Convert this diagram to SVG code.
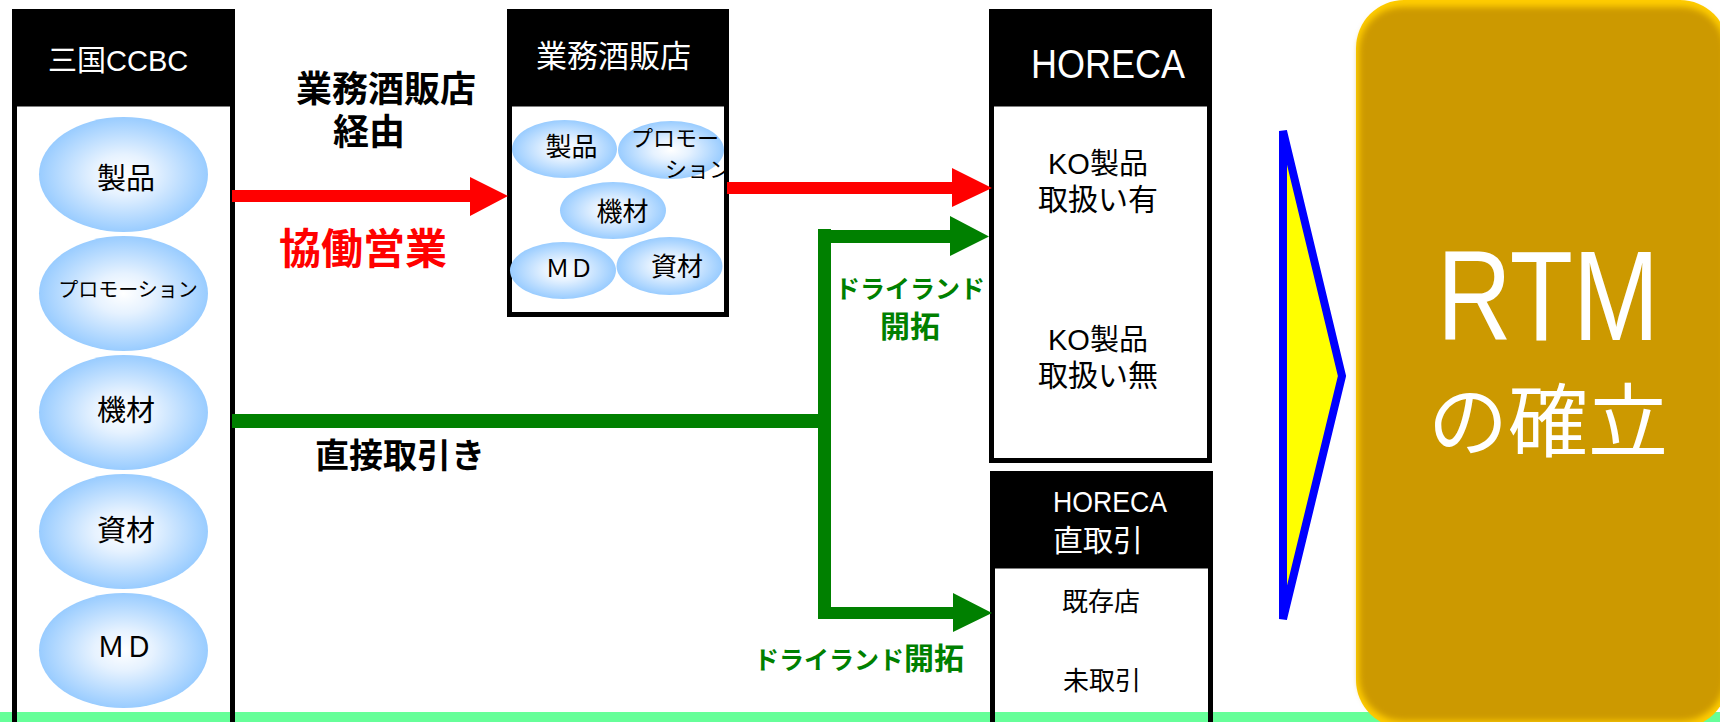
<svg xmlns="http://www.w3.org/2000/svg" width="1720" height="722" viewBox="0 0 1720 722">
<defs>
<style>
text{font-family:"Liberation Sans","Noto Sans CJK JP",sans-serif;}
.hdr{fill:#000;}
.body{fill:none;stroke:#000;stroke-width:5;}
.wt{fill:#fff;}
.bk{fill:#000;}
.bold{font-weight:bold;}
.ell{fill:url(#blueGrad);}
.red{fill:#FF0000;}
.grn{fill:#008000;}
.mid{text-anchor:middle;}
</style>
<radialGradient id="blueGrad" cx="50%" cy="50%" r="50%">
<stop offset="0" stop-color="#FFFFFF"/>
<stop offset="0.35" stop-color="#E6F2FF"/>
<stop offset="1" stop-color="#99CCFF"/>
</radialGradient>
<filter id="soft" x="-10%" y="-10%" width="120%" height="120%">
<feGaussianBlur stdDeviation="3"/>
</filter>
<clipPath id="midClip"><rect x="512" y="106" width="212" height="206"/></clipPath>
</defs>
<rect x="0" y="0" width="1720" height="722" fill="#fff"/>
<rect x="0" y="712" width="1720" height="10" fill="#66FF99"/>

<g id="node-mikuni">
<rect class="hdr" x="12" y="9" width="223" height="97"/>
<rect class="body" x="14.5" y="104" width="218" height="640"/>
<text class="wt" x="48" y="71" font-size="29">三国CCBC</text>
<ellipse class="ell" cx="123.5" cy="174.5" rx="84.5" ry="57.5"/>
<ellipse class="ell" cx="123.5" cy="293.5" rx="84.5" ry="57.5"/>
<ellipse class="ell" cx="123.5" cy="412.5" rx="84.5" ry="57.5"/>
<ellipse class="ell" cx="123.5" cy="531.5" rx="84.5" ry="57.5"/>
<ellipse class="ell" cx="123.5" cy="650.5" rx="84.5" ry="57.5"/>
<text class="bk mid" x="126" y="189" font-size="29">製品</text>
<text class="bk mid" x="128" y="297" font-size="20">プロモーション</text>
<text class="bk mid" x="126" y="421" font-size="29">機材</text>
<text class="bk mid" x="126" y="541" font-size="29">資材</text>
<text class="bk mid" x="125" y="657" font-size="28">ＭＤ</text>
</g>

<g id="node-gyomu">
<rect class="hdr" x="507" y="9" width="222" height="97"/>
<rect class="body" x="509.5" y="104" width="217" height="210.5"/>
<text class="wt" x="536" y="67" font-size="31">業務酒販店</text>
<ellipse class="ell" cx="564.5" cy="149" rx="52.5" ry="29"/>
<ellipse class="ell" cx="671" cy="150" rx="53" ry="29"/>
<ellipse class="ell" cx="613" cy="210.5" rx="53" ry="28.5"/>
<ellipse class="ell" cx="563" cy="270.5" rx="53" ry="28.5"/>
<ellipse class="ell" cx="669.5" cy="266" rx="53" ry="29"/>
<text class="bk mid" x="571.5" y="156" font-size="26">製品</text>
<g clip-path="url(#midClip)">
<text class="bk" x="631" y="146" font-size="22">プロモー</text>
<text class="bk" x="665" y="177" font-size="22">ション</text>
</g>
<text class="bk mid" x="622.5" y="221" font-size="26">機材</text>
<text class="bk mid" x="569.5" y="277" font-size="24">ＭＤ</text>
<text class="bk mid" x="677" y="276" font-size="26">資材</text>
</g>

<g id="node-horeca1">
<rect class="hdr" x="989" y="9" width="223" height="97"/>
<rect class="body" x="991.5" y="104" width="218" height="356.5"/>
<text class="wt" x="1031" y="78" font-size="40" textLength="154" lengthAdjust="spacingAndGlyphs">HORECA</text>
<text class="bk" x="1048" y="174" font-size="29">KO製品</text>
<text class="bk" x="1038" y="210" font-size="30">取扱い有</text>
<text class="bk" x="1048" y="350" font-size="29">KO製品</text>
<text class="bk" x="1038" y="386" font-size="30">取扱い無</text>
</g>

<g id="node-horeca2">
<rect class="hdr" x="990" y="471" width="223" height="97"/>
<rect class="body" x="992.5" y="566" width="218" height="180"/>
<text class="wt" x="1053" y="512" font-size="30" textLength="114" lengthAdjust="spacingAndGlyphs">HORECA</text>
<text class="wt" x="1053" y="551" font-size="30">直取引</text>
<text class="bk" x="1062" y="611" font-size="26">既存店</text>
<text class="bk" x="1063" y="690" font-size="26">未取引</text>
</g>

<g id="connectors">
<polygon class="red" points="232,190 470,190 470,177 508,196 470,216 470,202 232,202"/>
<polygon class="red" points="727,182 952,182 952,168 992,188 952,207 952,194 727,194"/>
<rect class="grn" x="232" y="414" width="599" height="14"/>
<rect class="grn" x="818" y="229" width="13" height="390"/>
<polygon class="grn" points="818,230 950,230 950,216 989,236.5 950,256 950,243 818,243"/>
<polygon class="grn" points="818,607 953,607 953,593 992,613 953,632 953,619 818,619"/>
</g>

<g id="labels">
<text class="bk bold" x="296" y="102" font-size="36">業務酒販店</text>
<text class="bk bold" x="333" y="145" font-size="36">経由</text>
<text class="red bold" x="279" y="264" font-size="42">協働営業</text>
<text class="bk bold" x="315" y="468" font-size="34">直接取引き</text>
<text class="grn bold" x="835" y="298" font-size="25">ドライランド</text>
<text class="grn bold" x="880" y="337" font-size="30">開拓</text>
<text class="grn bold" x="754" y="669"><tspan font-size="25">ドライランド</tspan><tspan font-size="30">開拓</tspan></text>
</g>

<g id="chevron">
<polygon points="1283,131 1342,376 1283,619" fill="#FFFF00" stroke="#0000FF" stroke-width="8"/>
</g>

<g id="node-rtm">
<rect x="1356" y="0" width="372" height="728" rx="48" fill="#FFCC00"/>
<rect x="1359" y="7" width="366" height="714" rx="44" fill="#CC9900" filter="url(#soft)"/>
<text class="wt mid" x="1548" y="340" font-size="128" textLength="222" lengthAdjust="spacingAndGlyphs">RTM</text>
<text class="wt mid" x="1548" y="450" font-size="80">の確立</text>
</g>
</svg>
